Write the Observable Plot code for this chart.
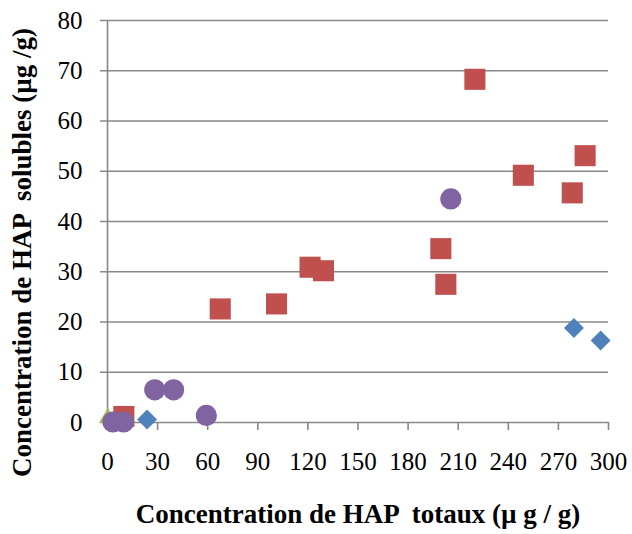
<!DOCTYPE html>
<html>
<head>
<meta charset="utf-8">
<script src="https://cdn.jsdelivr.net/npm/d3@7"></script>
<script src="https://cdn.jsdelivr.net/npm/@observablehq/plot@0.6"></script>
<style>
  html, body { margin: 0; padding: 0; background: #fff; }
  #chart svg { display: block; }
  #chart svg text { font-family: 'Liberation Serif', 'Times New Roman', serif; }
</style>
</head>
<body>
<div id="chart"></div>
<script>
const xTicks = [0, 30, 60, 90, 120, 150, 180, 210, 240, 270, 300];
const yTicks = [0, 10, 20, 30, 40, 50, 60, 70, 80];

const blueX = [23.7, 279.3, 295.3];
const blueY = [0.6, 18.8, 16.3];

const redX = [9.8, 67.5, 101.2, 121.3, 129.3, 199.6, 202.6, 220.0, 249.0, 278.3, 286.0];
const redY = [1.2, 22.6, 23.6, 30.9, 30.2, 34.6, 27.5, 68.3, 49.2, 45.7, 53.1];

const greenX = [0.2];
const greenY = [0.9];

const purpleX = [3.3, 9.6, 28.3, 39.6, 59.2, 205.6];
const purpleY = [0.1, 0.1, 6.5, 6.5, 1.4, 44.5];

const xLabel = "Concentration de HAP  totaux (µ g / g)";
const yLabel = "Concentration de HAP  solubles (µg /g)";

const toPts = (xs, ys) => xs.map((x, i) => ({x, y: ys[i]}));
const blue = toPts(blueX, blueY);
const red = toPts(redX, redY);
const green = toPts(greenX, greenY);
const purple = toPts(purpleX, purpleY);

const gridColor = "#888888";
const font = "'Liberation Serif', 'Times New Roman', serif";

const chart = Plot.plot({
  width: 632,
  height: 534,
  marginLeft: 107,
  marginRight: 24,
  marginTop: 20,
  marginBottom: 112,
  style: {fontFamily: font, fontSize: "25px", background: "#fff", color: "black"},
  x: {domain: [0, 300], axis: null},
  y: {domain: [0, 80], axis: null},
  marks: [
    Plot.ruleY(yTicks.filter(d => d > 0), {y: d => d, stroke: gridColor, strokeWidth: 1.6, insetLeft: -7}),
    Plot.ruleX([0], {stroke: gridColor, strokeWidth: 1.6}),
    Plot.ruleY([0], {stroke: gridColor, strokeWidth: 1.6, insetLeft: -7}),
    Plot.axisX({ticks: xTicks, tickSize: 8, tickPadding: 22, stroke: gridColor, strokeWidth: 1.6, fill: "black", fontSize: 25, fontFamily: font, tickFormat: d => String(d), label: null}),
    Plot.axisY({ticks: yTicks, tickSize: 0, tickPadding: 25, fill: "black", fontSize: 25, fontFamily: font, tickFormat: d => String(d), label: null}),
    Plot.dot(blue, {x: "x", y: "y", symbol: "diamond2", r: 9, fill: "#4F81BD", stroke: null, clip: false}),
    Plot.dot(red, {x: "x", y: "y", symbol: "square", r: 11.9, fill: "#C0504D", stroke: null, clip: false}),
    Plot.dot(green, {x: "x", y: "y", symbol: "triangle2", r: 8.5, fill: "#9BBB59", stroke: null, clip: false}),
    Plot.dot(purple, {x: "x", y: "y", symbol: "circle", r: 10.6, fill: "#8064A2", stroke: null, clip: false}),
    Plot.text([xLabel], {frameAnchor: "bottom", dy: 92, text: d => d, fontSize: 27, fontWeight: "bold", fontFamily: font, fill: "black", lineAnchor: "middle", textAnchor: "middle"}),
    Plot.text([yLabel], {frameAnchor: "left", dx: -85, dy: 31, rotate: -90, text: d => d, fontSize: 27, fontWeight: "bold", fontFamily: font, fill: "black", lineAnchor: "middle", textAnchor: "middle"})
  ]
});
chart.querySelectorAll("text").forEach(t => t.style.whiteSpace = "pre");
document.getElementById("chart").appendChild(chart);
</script>
</body>
</html>
